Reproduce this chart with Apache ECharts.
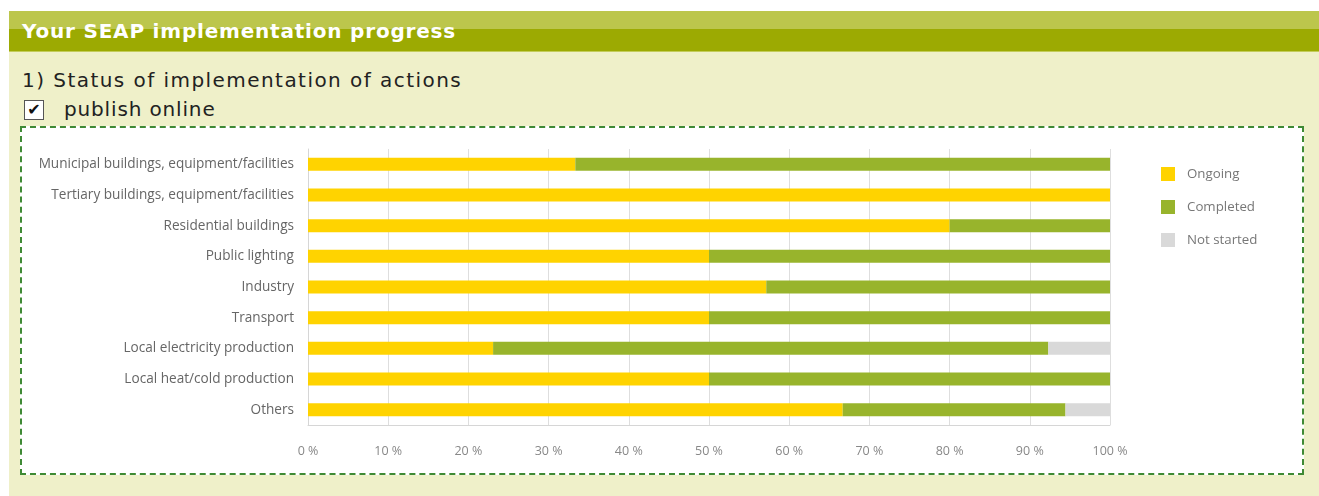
<!DOCTYPE html>
<html>
<head>
<meta charset="utf-8">
<script src="https://cdn.jsdelivr.net/npm/echarts@6/dist/echarts.min.js"></script>
<style>
  html, body { margin: 0; padding: 0; background: #fff; }
  .page { position: absolute; left: 9px; top: 11px; width: 1310px; height: 485px; background: #eff0c9; }
  .head { position: absolute; left: 0; top: 0; width: 1310px; height: 41px;
    background: linear-gradient(#bcc64c 0, #bcc64c 18px, #9caa02 18px, #9caa02 40px, #c3cc5a 40px); }
  .head span { position: absolute; left: 13px; top: 8px; color: #fff; font: bold 20px "DejaVu Sans", Verdana, sans-serif; letter-spacing: 0.8px; }
  .sub { position: absolute; left: 13px; top: 57px; font: 20px "DejaVu Sans", Verdana, sans-serif; color: #222; letter-spacing: 1.45px; }
  .chk { position: absolute; left: 15px; top: 89px; width: 18px; height: 18px; border: 1px solid #555; background: #fff;
    font: bold 16px "DejaVu Sans", sans-serif; line-height: 18px; text-align: center; color: #111; }
  .pub { position: absolute; left: 55px; top: 86px; font: 20px "DejaVu Sans", Verdana, sans-serif; color: #222; letter-spacing: 0.85px; }
  .box { position: absolute; left: 11px; top: 115px; width: 1280px; height: 345px; border: 2px dashed #3f8a35; background: #fff; }
  #chart { width: 1280px; height: 345px; }
</style>
</head>
<body>
<div class="page">
  <div class="head"><span>Your SEAP implementation progress</span></div>
  <div class="sub">1) Status of implementation of actions</div>
  <div class="chk">&#10004;</div>
  <div class="pub">publish online</div>
  <div class="box"><div id="chart"></div></div>
</div>
<script>
// categories, top to bottom
const categories = [
  "Municipal buildings, equipment/facilities",
  "Tertiary buildings, equipment/facilities",
  "Residential buildings",
  "Public lighting",
  "Industry",
  "Transport",
  "Local electricity production",
  "Local heat/cold production",
  "Others"
];
// percentage shares per category
const ongoing    = [33.33, 100, 80, 50, 57.14, 50, 23.08, 50, 66.67];
const completed  = [66.67, 0, 20, 50, 42.86, 50, 69.23, 50, 27.78];
const notStarted = [0, 0, 0, 0, 0, 0, 7.69, 0, 5.55];
const xTicks = [0, 10, 20, 30, 40, 50, 60, 70, 80, 90, 100];

let chart = echarts.init(document.getElementById("chart"));
let labelFont = "'Open Sans', Lato, sans-serif";
function bar(name, data, color) {
  return {
    name: name,
    type: "bar",
    stack: "total",
    data: data,
    barWidth: 13,
    itemStyle: { color: color },
    silent: true
  };
}
let option = {
  animation: false,
  grid: { left: 286, right: 192, top: 21, bottom: 48 },
  legend: {
    orient: "vertical",
    left: 1134,
    top: 34,
    itemWidth: 14,
    itemHeight: 14,
    itemGap: 19,
    icon: "rect",
    textStyle: { color: "#777", fontSize: 13.3, fontFamily: labelFont, padding: [0, 0, 0, 7] },
    data: ["Ongoing", "Completed", "Not started"]
  },
  xAxis: {
    type: "value",
    min: 0,
    max: 100,
    interval: 10,
    axisLine: { show: true, lineStyle: { color: "#d6d6d6" } },
    axisTick: { show: false },
    splitLine: { lineStyle: { color: "#dedede" } },
    axisLabel: {
      margin: 20,
      color: "#888",
      fontSize: 12.5,
      fontFamily: labelFont,
      formatter: function (v) { return xTicks.indexOf(v) >= 0 ? v + " %" : ""; }
    }
  },
  yAxis: {
    type: "category",
    inverse: true,
    data: categories,
    axisLine: { show: true, lineStyle: { color: "#d6d6d6" } },
    axisTick: { show: false },
    axisLabel: { margin: 14, color: "#666", fontSize: 13.6, fontFamily: labelFont }
  },
  series: [
    bar("Ongoing", ongoing, "#ffd300"),
    bar("Completed", completed, "#98b42c"),
    bar("Not started", notStarted, "#d9d9d9")
  ]
};
chart.setOption(option);
</script>
</body>
</html>
